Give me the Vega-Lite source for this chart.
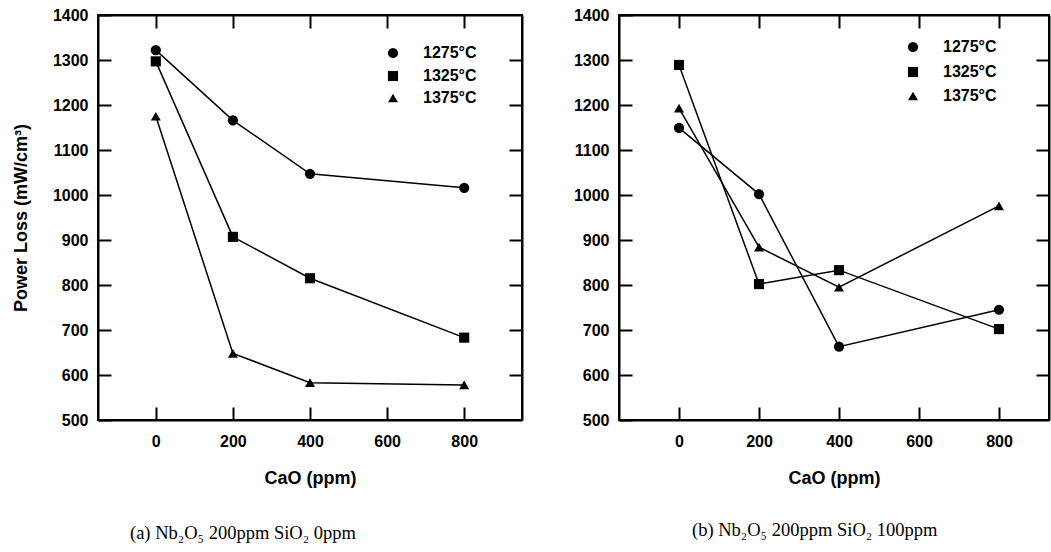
{
  "$schema": "https://vega.github.io/schema/vega-lite/v6.json",
  "background": "white",
  "padding": {"left": 11, "top": 6, "right": 0, "bottom": 0},
  "config": {
    "view": {"stroke": "black", "strokeWidth": 2},
    "axis": {
      "grid": false,
      "domainColor": "black",
      "domainWidth": 2,
      "tickColor": "black",
      "tickWidth": 2,
      "tickSize": -13,
      "labelFont": "Liberation Sans",
      "labelFontWeight": "bold",
      "labelFontSize": 16,
      "labelColor": "black",
      "format": "d",
      "titleFont": "Liberation Sans",
      "titleFontWeight": "bold",
      "titleFontSize": 18,
      "titleColor": "black"
    },
    "legend": {
      "labelFont": "Liberation Sans",
      "labelFontWeight": "bold",
      "labelFontSize": 16,
      "labelColor": "black",
      "symbolFillColor": "black",
      "symbolStrokeColor": "black",
      "rowPadding": 5,
      "labelOffset": 22,
      "title": null
    }
  },
  "datasets": {
    "a": [
      {"CaO": 0, "loss": 1322, "temp": "1275°C"},
      {"CaO": 200, "loss": 1166, "temp": "1275°C"},
      {"CaO": 400, "loss": 1047, "temp": "1275°C"},
      {"CaO": 800, "loss": 1016, "temp": "1275°C"},
      {"CaO": 0, "loss": 1297, "temp": "1325°C"},
      {"CaO": 200, "loss": 907, "temp": "1325°C"},
      {"CaO": 400, "loss": 815, "temp": "1325°C"},
      {"CaO": 800, "loss": 683, "temp": "1325°C"},
      {"CaO": 0, "loss": 1175, "temp": "1375°C"},
      {"CaO": 200, "loss": 648, "temp": "1375°C"},
      {"CaO": 400, "loss": 583, "temp": "1375°C"},
      {"CaO": 800, "loss": 578, "temp": "1375°C"}
    ],
    "b": [
      {"CaO": 0, "loss": 1149, "temp": "1275°C"},
      {"CaO": 200, "loss": 1002, "temp": "1275°C"},
      {"CaO": 400, "loss": 663, "temp": "1275°C"},
      {"CaO": 800, "loss": 745, "temp": "1275°C"},
      {"CaO": 0, "loss": 1289, "temp": "1325°C"},
      {"CaO": 200, "loss": 802, "temp": "1325°C"},
      {"CaO": 400, "loss": 833, "temp": "1325°C"},
      {"CaO": 800, "loss": 702, "temp": "1325°C"},
      {"CaO": 0, "loss": 1193, "temp": "1375°C"},
      {"CaO": 200, "loss": 884, "temp": "1375°C"},
      {"CaO": 400, "loss": 795, "temp": "1375°C"},
      {"CaO": 800, "loss": 976, "temp": "1375°C"}
    ]
  },
  "spacing": 48,
  "resolve": {"legend": {"shape": "independent", "size": "independent"}},
  "hconcat": [
    {
      "width": 424,
      "height": 405,
      "data": {"name": "a"},
      "title": {"text": "(a) Nb₂O₅ 200ppm SiO₂ 0ppm", "orient": "bottom", "anchor": "start", "frame": "group", "dx": 32, "offset": 37, "font": "Liberation Serif", "fontSize": 18.5, "fontWeight": "normal", "color": "black"},
      "layer": [
        {
          "mark": {"type": "line", "color": "black", "strokeWidth": 1.5},
          "encoding": {
            "x": {"field": "CaO", "type": "quantitative", "scale": {"domain": [-150, 950], "nice": false, "zero": false}, "axis": {"orient": "bottom", "values": [0, 200, 400, 600, 800], "title": "CaO (ppm)", "labelPadding": 26, "titlePadding": 20}},
            "y": {"field": "loss", "type": "quantitative", "scale": {"domain": [500, 1400], "nice": false, "zero": false}, "axis": {"orient": "left", "values": [500, 600, 700, 800, 900, 1000, 1100, 1200, 1300, 1400], "title": "Power Loss (mW/cm³)", "labelPadding": 23, "titlePadding": 22}},
            "detail": {"field": "temp"}
          }
        },
        {
          "mark": {"type": "point", "filled": true, "color": "black", "opacity": 1},
          "encoding": {
            "x": {"field": "CaO", "type": "quantitative", "axis": null},
            "y": {"field": "loss", "type": "quantitative", "axis": null},
            "shape": {"field": "temp", "type": "nominal", "scale": {"domain": ["1275°C", "1325°C", "1375°C"], "range": ["circle", "square", "triangle-up"]}, "legend": {"orient": "none", "legendX": 287, "legendY": 30}},
            "size": {"field": "temp", "type": "nominal", "scale": {"domain": ["1275°C", "1325°C", "1375°C"], "range": [105, 100, 170]}, "legend": {"orient": "none", "legendX": 287, "legendY": 30}}
          }
        },
        {
          "mark": {"type": "point", "opacity": 0},
          "encoding": {
            "x": {"field": "CaO", "type": "quantitative", "axis": {"orient": "top", "values": [0, 200, 400, 600, 800], "labels": false, "title": null}},
            "y": {"field": "loss", "type": "quantitative", "axis": {"orient": "right", "values": [600, 700, 800, 900, 1000, 1100, 1200, 1300], "labels": false, "title": null}}
          }
        }
      ],
      "resolve": {"axis": {"x": "independent", "y": "independent"}}
    },
    {
      "width": 430,
      "height": 405,
      "data": {"name": "b"},
      "title": {"text": "(b) Nb₂O₅ 200ppm SiO₂ 100ppm", "orient": "bottom", "anchor": "start", "frame": "group", "dx": 73, "offset": 34, "font": "Liberation Serif", "fontSize": 18.5, "fontWeight": "normal", "color": "black"},
      "layer": [
        {
          "mark": {"type": "line", "color": "black", "strokeWidth": 1.5},
          "encoding": {
            "x": {"field": "CaO", "type": "quantitative", "scale": {"domain": [-150, 925], "nice": false, "zero": false}, "axis": {"orient": "bottom", "values": [0, 200, 400, 600, 800], "title": "CaO (ppm)", "labelPadding": 26, "titlePadding": 20}},
            "y": {"field": "loss", "type": "quantitative", "scale": {"domain": [500, 1400], "nice": false, "zero": false}, "axis": {"orient": "left", "values": [500, 600, 700, 800, 900, 1000, 1100, 1200, 1300, 1400], "title": null, "labelPadding": 23}},
            "detail": {"field": "temp"}
          }
        },
        {
          "mark": {"type": "point", "filled": true, "color": "black", "opacity": 1},
          "encoding": {
            "x": {"field": "CaO", "type": "quantitative", "axis": null},
            "y": {"field": "loss", "type": "quantitative", "axis": null},
            "shape": {"field": "temp", "type": "nominal", "scale": {"domain": ["1275°C", "1325°C", "1375°C"], "range": ["circle", "square", "triangle-up"]}, "legend": {"orient": "none", "legendX": 286, "legendY": 24, "rowPadding": 7}},
            "size": {"field": "temp", "type": "nominal", "scale": {"domain": ["1275°C", "1325°C", "1375°C"], "range": [105, 100, 170]}, "legend": {"orient": "none", "legendX": 286, "legendY": 24, "rowPadding": 7}}
          }
        },
        {
          "mark": {"type": "point", "opacity": 0},
          "encoding": {
            "x": {"field": "CaO", "type": "quantitative", "axis": {"orient": "top", "values": [0, 200, 400, 600, 800], "labels": false, "title": null}},
            "y": {"field": "loss", "type": "quantitative", "axis": {"orient": "right", "values": [600, 700, 800, 900, 1000, 1100, 1200, 1300], "labels": false, "title": null}}
          }
        }
      ],
      "resolve": {"axis": {"x": "independent", "y": "independent"}}
    }
  ]
}
